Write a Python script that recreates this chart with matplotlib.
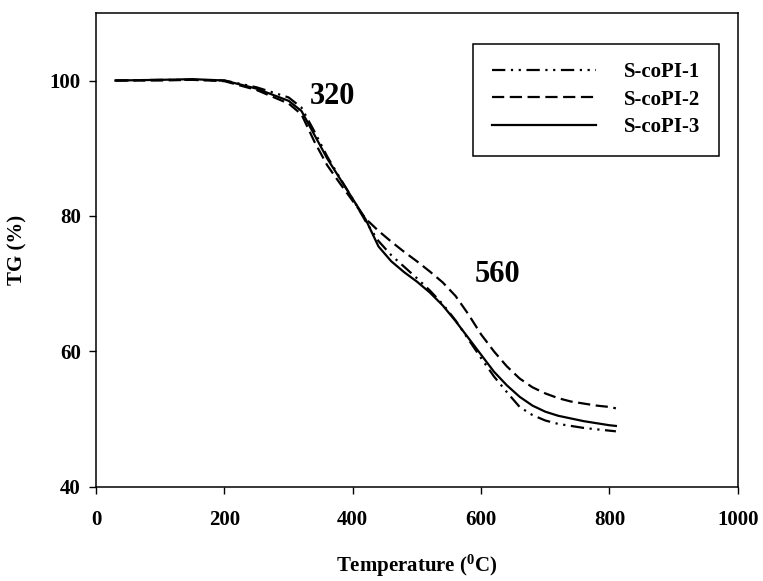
import matplotlib
matplotlib.use("Agg")
import matplotlib.pyplot as plt

plt.rcParams['font.family'] = ['Liberation Serif', 'DejaVu Serif']
plt.rcParams['font.weight'] = 'bold'
plt.rcParams['mathtext.fontset'] = 'custom'
plt.rcParams['mathtext.rm'] = 'Liberation Serif:bold'
plt.rcParams['mathtext.bf'] = 'Liberation Serif:bold'
plt.rcParams['mathtext.it'] = 'Liberation Serif:bold'

# Data
temp = [30, 100, 150, 200, 250, 300, 320, 340, 360, 380, 400, 420, 440, 460,
        480, 500, 520, 540, 560, 580, 600, 620, 640, 660, 680, 700, 720, 740,
        760, 780, 800, 810]

tg_1 = [100, 100.1, 100.1, 100, 99.0, 97.5, 96.0, 92.5, 88.8, 85.6, 82.5, 79.2,
        76.3, 74.2, 72.5, 70.8, 69.0, 67.0, 64.6, 61.8, 59.0, 56.3, 54.0, 51.8,
        50.6, 49.8, 49.3, 49.0, 48.7, 48.5, 48.3, 48.2]

tg_2 = [100, 100, 100.1, 99.9, 98.6, 96.6, 95.0, 91.0, 87.5, 84.8, 82.2, 79.6,
        77.8, 76.2, 74.7, 73.3, 71.8, 70.2, 68.2, 65.5, 62.5, 60.0, 57.8, 56.0,
        54.7, 53.8, 53.1, 52.6, 52.3, 52.0, 51.8, 51.6]

tg_3 = [100, 100.1, 100.2, 100, 98.8, 97.0, 95.5, 92.0, 88.5, 85.5, 82.5, 79.5,
        75.5, 73.3, 71.7, 70.3, 68.7, 66.8, 64.5, 62.0, 59.5, 57.0, 55.0, 53.3,
        52.0, 51.1, 50.5, 50.1, 49.7, 49.4, 49.1, 49.0]

labels = ['S-coPI-1', 'S-coPI-2', 'S-coPI-3']

# Grafik
fig = plt.figure(figsize=(7.63, 5.81), dpi=100)
ax = fig.add_axes([0.126, 0.162, 0.841, 0.816])

ax.plot(temp, tg_1, color='black', lw=1.6, linestyle=(0, (6, 2.5, 1, 2.5, 1, 2.5)), label=labels[0])
ax.plot(temp, tg_2, color='black', lw=1.6, linestyle=(0, (5.5, 2.5)), label=labels[1])
ax.plot(temp, tg_3, color='black', lw=1.6, linestyle='-', label=labels[2])

ax.text(368, 97.6, '320', fontsize=22, fontweight='bold', ha='center', va='center')
ax.text(625, 71.3, '560', fontsize=22, fontweight='bold', ha='center', va='center')

ax.set_xlim(0, 1000)
ax.set_ylim(40, 110)
ax.set_xticks([0, 200, 400, 600, 800, 1000])
ax.set_yticks([40, 60, 80, 100])
ax.tick_params(direction='out', length=5, width=1, labelsize=15)
ax.tick_params(axis='x', pad=12)
ax.tick_params(axis='y', pad=6)
for s in ax.spines.values():
    s.set_linewidth(1.1)

ax.set_xlabel('Temperature ($^{0}$C)', fontsize=15, fontweight='bold', labelpad=16)
ax.set_ylabel('TG (%)', fontsize=15, fontweight='bold', labelpad=16)

leg = ax.legend(loc='upper right', bbox_to_anchor=(0.97, 0.935), borderaxespad=0,
                fontsize=15, handlelength=5.0, handletextpad=1.3, labelspacing=0.35,
                borderpad=0.9, fancybox=False, edgecolor='black', framealpha=1)
leg.get_frame().set_linewidth(1.1)

fig.savefig('out.png', dpi=100)
